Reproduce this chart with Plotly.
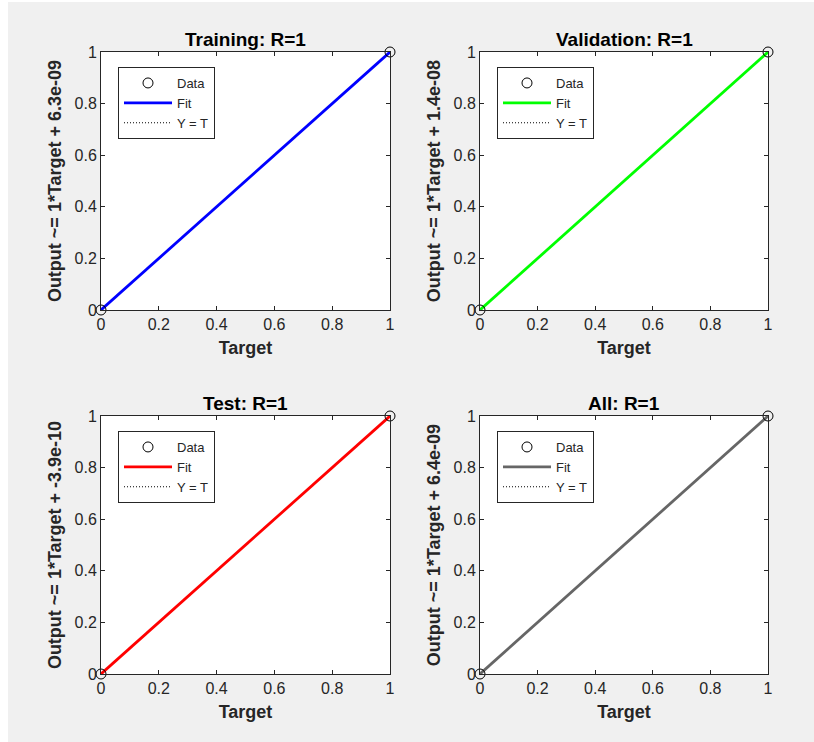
import plotly.graph_objects as go

# ---- data ----
panel_titles = ["Training: R=1", "Validation: R=1", "Test: R=1", "All: R=1"]
intercept_labels = ["6.3e-09", "1.4e-08", "-3.9e-10", "6.4e-09"]
intercepts = [6.3e-09, 1.4e-08, -3.9e-10, 6.4e-09]
slopes = [1, 1, 1, 1]
fit_colors = ["#0000FF", "#00FF00", "#FF0000", "#666666"]
target_vals = [0, 1]
output_vals = [0, 1]
line_x = [0, 1]
tick_vals = [0, 0.2, 0.4, 0.6, 0.8, 1]
tick_text = ["0", "0.2", "0.4", "0.6", "0.8", "1"]

# the page body keeps an 8px margin, so the figure is 16px smaller than the window
W, H = 798, 726
OFF = 8
FONT = "Arial, Liberation Sans, sans-serif"
AX = "#262626"

# plot-area pixel boxes in window coordinates (left, right, top, bottom)
boxes = [(101, 390, 52, 310), (480, 768, 52, 310),
         (101, 390, 416, 674), (480, 768, 416, 674)]

fig = go.Figure()
layout = dict(
    width=W, height=H, autosize=False,
    margin=dict(l=0, r=0, t=0, b=0, pad=0, autoexpand=False),
    paper_bgcolor="#F0F0F0",
    plot_bgcolor="white",
    showlegend=True,
    font=dict(family=FONT, color=AX),
)
annotations = []

for i in range(4):
    l, r, t, b = [v - OFF for v in boxes[i]]
    n = "" if i == 0 else str(i + 1)
    xa, ya = "x" + n, "y" + n
    leg = "legend" + n
    fit_y = [slopes[i] * x + intercepts[i] for x in line_x]

    fig.add_trace(go.Scatter(x=line_x, y=line_x, mode="lines", name="Y = T",
                             line=dict(color="black", width=1, dash="1px,2px"),
                             xaxis=xa, yaxis=ya, legend=leg, legendrank=3))
    fig.add_trace(go.Scatter(x=line_x, y=fit_y, mode="lines", name="Fit",
                             line=dict(color=fit_colors[i], width=2.8),
                             xaxis=xa, yaxis=ya, legend=leg, legendrank=2))
    fig.add_trace(go.Scatter(x=target_vals, y=output_vals, mode="markers", name="Data",
                             marker=dict(symbol="circle-open", size=10,
                                         color="black", line=dict(width=1)),
                             cliponaxis=False,
                             xaxis=xa, yaxis=ya, legend=leg, legendrank=1))

    axcommon = dict(range=[0, 1], tickvals=tick_vals, ticktext=tick_text,
                    ticks="inside", ticklen=4, tickcolor=AX, tickwidth=1,
                    showline=True, linecolor=AX, linewidth=1, mirror="ticks",
                    showgrid=False, zeroline=False, fixedrange=True, automargin=False,
                    tickfont=dict(family=FONT, size=16, color=AX))
    layout["xaxis" + n] = dict(axcommon, domain=[l / W, r / W], anchor=ya,
                               title=dict(text="<b>Target</b>", standoff=9,
                                          font=dict(family=FONT, size=18, color=AX)))
    layout["yaxis" + n] = dict(axcommon, domain=[1 - b / H, 1 - t / H], anchor=xa,
                               title=dict(text="<b>Output ~= 1*Target + " + intercept_labels[i] + "</b>",
                                          standoff=8,
                                          font=dict(family=FONT, size=18, color=AX)))
    layout[leg] = dict(x=(l + 17) / W, y=1 - (t + 15) / H, xanchor="left", yanchor="top",
                       bgcolor="white", bordercolor=AX, borderwidth=1,
                       itemwidth=48, traceorder="normal",
                       font=dict(family=FONT, size=13, color=AX))
    annotations.append(dict(text="<b>" + panel_titles[i] + "</b>", x=(l + r) / 2 / W,
                            y=1 - (t - 12.5) / H, xref="paper", yref="paper",
                            xanchor="center", yanchor="middle", showarrow=False,
                            font=dict(family=FONT, size=19, color="black")))

layout["annotations"] = annotations
fig.update_layout(**layout)
fig.write_html(
    "out.html", config={"displayModeBar": False},
    post_script=("document.body.style.background="
                 "'linear-gradient(to bottom, white 2px, transparent 2px),"
                 " linear-gradient(to right, white 8px, #F0F0F0 8px)';"),
)
